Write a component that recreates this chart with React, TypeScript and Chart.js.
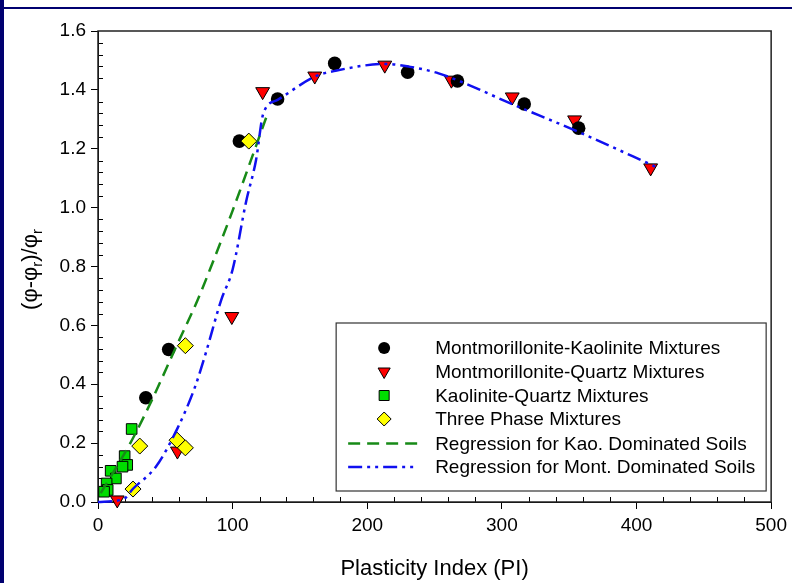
import React, { useEffect, useRef } from 'react';
import { Chart, registerables } from 'chart.js';

Chart.register(...registerables);

// ---- Data ----
const montKaoPI = [35.5, 52.5, 105, 133.4, 175.8, 230, 267, 316.6, 357];
const montKaoVal = [0.354, 0.518, 1.226, 1.369, 1.49, 1.46, 1.43, 1.352, 1.27];

const montQtzPI = [14.3, 59, 99.4, 122.3, 161, 213, 262.5, 307.7, 354, 410.5];
const montQtzVal = [0.007, 0.173, 0.63, 1.394, 1.447, 1.484, 1.433, 1.376, 1.298, 1.135];

const kaoQtzPI = [25, 19.8, 21.7, 18.2, 9.4, 13.3, 6.4, 7.2, 4.5];
const kaoQtzVal = [0.248, 0.156, 0.126, 0.12, 0.106, 0.08, 0.063, 0.041, 0.035];

const threePhasePI = [26, 31, 58.7, 64.9, 64.9, 112];
const threePhaseVal = [0.044, 0.19, 0.21, 0.184, 0.531, 1.226];

const kaoRegPI = [2, 24, 40, 58, 74, 83, 100, 126.5];
const kaoRegVal = [0.03, 0.2, 0.346, 0.527, 0.686, 0.788, 0.99, 1.326];

const montRegPI = [0, 19, 26, 43, 59, 72, 80, 91.5, 100, 110, 117.4, 122.8, 133.4, 161, 176.5, 213.5, 230.8, 253, 312, 356.5, 417];
const montRegVal = [0.0, 0.01, 0.045, 0.12, 0.25, 0.39, 0.505, 0.686, 0.79, 1.02, 1.162, 1.32, 1.366, 1.445, 1.465, 1.488, 1.479, 1.456, 1.343, 1.258, 1.133];

const xTitle = 'Plasticity Index (PI)';
const legendLabels = [
  'Montmorillonite-Kaolinite Mixtures',
  'Montmorillonite-Quartz Mixtures',
  'Kaolinite-Quartz Mixtures',
  'Three Phase Mixtures',
  'Regression for Kao. Dominated Soils',
  'Regression for Mont. Dominated Soils',
];

const FONT = "'Liberation Sans', Arial, Helvetica, sans-serif";
const RED = '#ff0000';
const GREEN = '#00dd00';
const YELLOW = '#ffff00';
const LINE_GREEN = '#178a17';
const LINE_BLUE = '#1010f0';
const BLUE_DASH = [14, 5, 3, 5, 3, 5];
const GREEN_DASH = [12, 7];

const toXY = (xs: number[], ys: number[]) => xs.map((x, i) => ({ x, y: ys[i] }));

function drawSymbol(ctx: CanvasRenderingContext2D, kind: string, x: number, y: number) {
  ctx.save();
  ctx.lineWidth = 1;
  ctx.strokeStyle = '#000';
  ctx.beginPath();
  if (kind === 'circle') {
    ctx.arc(x, y, 6, 0, Math.PI * 2);
    ctx.fillStyle = '#000';
    ctx.fill();
  } else if (kind === 'tri') {
    const r = 7;
    ctx.moveTo(x, y + r);
    ctx.lineTo(x - r * 0.866, y - r / 2);
    ctx.lineTo(x + r * 0.866, y - r / 2);
    ctx.closePath();
    ctx.fillStyle = RED;
    ctx.fill();
    ctx.stroke();
  } else if (kind === 'sq') {
    ctx.rect(x - 5, y - 5, 10, 10);
    ctx.fillStyle = GREEN;
    ctx.fill();
    ctx.stroke();
  } else if (kind === 'dia') {
    const r = 7;
    ctx.moveTo(x, y - r);
    ctx.lineTo(x + r, y);
    ctx.lineTo(x, y + r);
    ctx.lineTo(x - r, y);
    ctx.closePath();
    ctx.fillStyle = YELLOW;
    ctx.fill();
    ctx.stroke();
  }
  ctx.restore();
}

const framePlugin = {
  id: 'frameAndExtras',
  beforeDatasetsDraw(chart: any) {
    const { ctx, chartArea: a, scales } = chart;
    const xs = scales.x;
    const ys = scales.y;
    ctx.save();
    ctx.strokeStyle = '#000';
    ctx.lineWidth = 1;
    // minor ticks (inside)
    ctx.beginPath();
    for (let v = 20; v < 500; v += 20) {
      if (v % 100 === 0) continue;
      const px = Math.round(xs.getPixelForValue(v)) + 0.5;
      ctx.moveTo(px, a.bottom);
      ctx.lineTo(px, a.bottom - 5);
    }
    for (let i = 1; i < 40; i++) {
      if (i % 5 === 0) continue;
      const py = Math.round(ys.getPixelForValue(i * 0.04)) + 0.5;
      ctx.moveTo(a.left, py);
      ctx.lineTo(a.left + 5, py);
    }
    ctx.stroke();
    // frame
    ctx.strokeStyle = '#222';
    ctx.lineWidth = 1.5;
    ctx.strokeRect(a.left, a.top, a.right - a.left, a.bottom - a.top);
    ctx.restore();

    // y title with subscripts
    ctx.save();
    const cy = (a.top + a.bottom) / 2 + 3;
    ctx.translate(31, cy);
    ctx.rotate(-Math.PI / 2);
    const big = `22px ${FONT}`;
    const small = `15px ${FONT}`;
    const parts: [string, boolean][] = [['(φ-φ', false], ['r', true], [')/φ', false], ['r', true]];
    let total = 0;
    parts.forEach(([t, s]) => { ctx.font = s ? small : big; total += ctx.measureText(t).width; });
    let px = -total / 2;
    ctx.fillStyle = '#000';
    ctx.textBaseline = 'middle';
    parts.forEach(([t, s]) => {
      ctx.font = s ? small : big;
      ctx.fillText(t, px, s ? 7 : 0);
      px += ctx.measureText(t).width;
    });
    ctx.restore();
  },
  afterDatasetsDraw(chart: any) {
    const { ctx, chartArea: a } = chart;
    const left = a.right - 435;
    const top = a.bottom - 179;
    ctx.save();
    ctx.fillStyle = '#fff';
    ctx.fillRect(left, top, 430, 168);
    ctx.strokeStyle = '#333';
    ctx.lineWidth = 1.2;
    ctx.strokeRect(left, top, 430, 168);
    const rows = [25, 48.5, 72.5, 96, 120.5, 144];
    const kinds = ['circle', 'tri', 'sq', 'dia', 'green', 'blue'];
    ctx.font = `19px ${FONT}`;
    ctx.fillStyle = '#000';
    ctx.textBaseline = 'middle';
    rows.forEach((dy, i) => {
      const y = top + dy;
      const k = kinds[i];
      if (k === 'green' || k === 'blue') {
        ctx.save();
        ctx.strokeStyle = k === 'green' ? LINE_GREEN : LINE_BLUE;
        ctx.lineWidth = 2.5;
        ctx.setLineDash(k === 'green' ? GREEN_DASH : BLUE_DASH);
        ctx.beginPath();
        ctx.moveTo(left + 12, y);
        ctx.lineTo(left + 82, y);
        ctx.stroke();
        ctx.restore();
      } else {
        drawSymbol(ctx, k, left + 48, y);
      }
      ctx.fillStyle = '#000';
      ctx.fillText(legendLabels[i], left + 99, y + 1);
    });
    ctx.restore();
  },
};

export default function App() {
  const ref = useRef<HTMLCanvasElement | null>(null);
  useEffect(() => {
    if (!ref.current) return;
    Chart.defaults.font.family = FONT;
    const chart = new Chart(ref.current, {
      type: 'scatter',
      data: {
        datasets: [
          {
            label: legendLabels[5],
            data: toXY(montRegPI, montRegVal),
            showLine: true,
            borderColor: LINE_BLUE,
            borderWidth: 2.5,
            borderDash: BLUE_DASH,
            pointRadius: 0,
            cubicInterpolationMode: 'monotone',
            clip: false,
          } as any,
          {
            label: legendLabels[4],
            data: toXY(kaoRegPI, kaoRegVal),
            showLine: true,
            borderColor: LINE_GREEN,
            borderWidth: 2.5,
            borderDash: GREEN_DASH,
            pointRadius: 0,
            cubicInterpolationMode: 'monotone',
            clip: false,
          } as any,
          {
            label: legendLabels[3],
            data: toXY(threePhasePI, threePhaseVal),
            pointStyle: 'rectRot',
            pointRadius: 8,
            backgroundColor: YELLOW,
            borderColor: '#000',
            borderWidth: 1,
            clip: false,
          } as any,
          {
            label: legendLabels[2],
            data: toXY(kaoQtzPI, kaoQtzVal),
            pointStyle: 'rect',
            pointRadius: 7.5,
            backgroundColor: GREEN,
            borderColor: '#000',
            borderWidth: 1,
            clip: false,
          } as any,
          {
            label: legendLabels[0],
            data: toXY(montKaoPI, montKaoVal),
            pointStyle: 'circle',
            pointRadius: 6.8,
            backgroundColor: '#000',
            borderColor: '#000',
            borderWidth: 0,
            clip: false,
          } as any,
          {
            label: legendLabels[1],
            data: toXY(montQtzPI, montQtzVal),
            pointStyle: 'triangle',
            rotation: 180,
            pointRadius: 8,
            backgroundColor: RED,
            borderColor: '#000',
            borderWidth: 1,
            clip: false,
          } as any,
        ],
      },
      options: {
        animation: false,
        responsive: false,
        maintainAspectRatio: false,
        devicePixelRatio: 1,
        events: [],
        layout: { padding: { left: 0, top: 31, right: 18, bottom: 0 } },
        plugins: { legend: { display: false }, tooltip: { enabled: false } },
        scales: {
          x: {
            type: 'linear',
            min: 0,
            max: 500,
            ticks: { stepSize: 100, color: '#000', font: { size: 19 }, padding: 5 },
            grid: { drawOnChartArea: false, tickLength: 7, color: '#000' },
            border: { color: '#000', width: 1 },
            title: { display: true, text: xTitle, color: '#000', font: { size: 22 }, padding: { top: 0, bottom: 1 } },
            afterFit: (s: any) => { s.height = 81; },
          },
          y: {
            type: 'linear',
            min: 0,
            max: 1.6,
            ticks: { stepSize: 0.2, color: '#000', font: { size: 19 }, padding: 5, callback: (v: any) => Number(v).toFixed(1) },
            grid: { drawOnChartArea: false, tickLength: 7, color: '#000' },
            border: { color: '#000', width: 1 },
            afterFit: (s: any) => { s.width = 98; },
          },
        },
      } as any,
      plugins: [framePlugin],
    });
    return () => chart.destroy();
  }, []);

  return (
    <div style={{ position: 'absolute', left: 0, top: 0, width: 792, height: 583, background: '#fff', overflow: 'hidden' }}>
      <canvas ref={ref} width={792} height={583} style={{ position: 'absolute', left: 0, top: 0, width: 792, height: 583 }} />
      <div style={{ position: 'absolute', left: 0, top: 0, width: 4, height: 583, background: '#000070' }} />
      <div style={{ position: 'absolute', left: 0, top: 7, width: 792, height: 2, background: '#000070' }} />
    </div>
  );
}
